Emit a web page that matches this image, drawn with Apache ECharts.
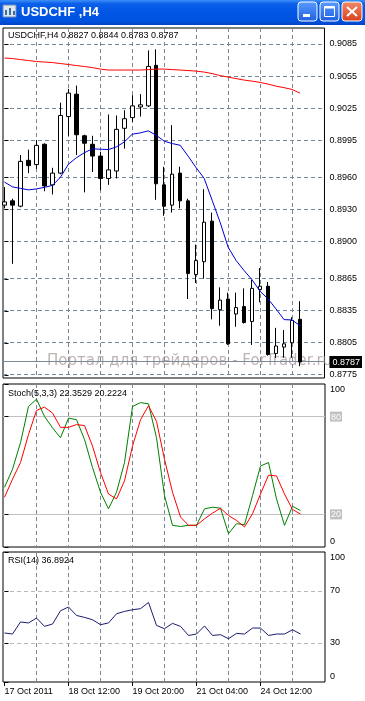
<!DOCTYPE html>
<html><head><meta charset="utf-8">
<script src="https://cdn.jsdelivr.net/npm/echarts@6/dist/echarts.min.js"></script>
<style>html,body{margin:0;padding:0;background:#fff}#c{width:365px;height:701px}</style>
</head><body><div id="c"></div>
<script>
const symbolName = 'USDCHF';
const timeframe = 'H4';
const open  = [0.8934,0.8938,0.8933,0.8976,0.8972,0.8991,0.8953,0.8964,0.9017,0.9038,0.8999,0.8991,0.8980,0.8959,0.8966,0.9006,0.9016,0.9026,0.9027,0.9065,0.8953,0.8934,0.8964,0.8938,0.8869,0.8881,0.8919,0.8836,0.8846,0.8832,0.8839,0.8825,0.8855,0.8858,0.8795,0.8801,0.8805,0.8827];
const close = [0.8937,0.8934,0.8975,0.8971,0.8990,0.8952,0.8964,0.9018,0.9039,0.9000,0.8992,0.8980,0.8959,0.8967,0.9005,0.9015,0.9027,0.9028,0.9064,0.8954,0.8933,0.8963,0.8938,0.8870,0.8882,0.8918,0.8837,0.8845,0.8804,0.8838,0.8824,0.8856,0.8858,0.8794,0.8802,0.8804,0.8826,0.8787];
const high  = [0.8951,0.8940,0.8981,0.8986,0.8995,0.8992,0.8969,0.9030,0.9043,0.9046,0.9000,0.8999,0.8984,0.9019,0.9018,0.9023,0.9037,0.9038,0.9079,0.9080,0.8970,0.9009,0.8970,0.8940,0.8897,0.8949,0.8927,0.8857,0.8852,0.8852,0.8856,0.8864,0.8875,0.8862,0.8819,0.8817,0.8829,0.8844];
const low   = [0.8931,0.8879,0.8932,0.8964,0.8968,0.8947,0.8944,0.8963,0.8999,0.8981,0.8946,0.8965,0.8948,0.8953,0.8959,0.8987,0.9012,0.9017,0.9026,0.8939,0.8924,0.8927,0.8931,0.8846,0.8861,0.8865,0.8827,0.8821,0.8803,0.8820,0.8823,0.8803,0.8843,0.8793,0.8791,0.8791,0.8791,0.8783];
const maSlow = [0.90718,0.90714,0.90704,0.90695,0.90686,0.90681,0.90676,0.90667,0.90658,0.90648,0.90639,0.90629,0.90615,0.90606,0.90606,0.90606,0.90606,0.90606,0.90610,0.90615,0.90615,0.90610,0.90606,0.90601,0.90596,0.90587,0.90573,0.90554,0.90540,0.90526,0.90512,0.90502,0.90490,0.90474,0.90455,0.90441,0.90424,0.90390];
const maFast = [0.89556,0.89511,0.89497,0.89483,0.89492,0.89507,0.89525,0.89601,0.89723,0.89784,0.89831,0.89868,0.89864,0.89861,0.89885,0.89932,0.90005,0.90017,0.90036,0.89995,0.89939,0.89917,0.89901,0.89798,0.89690,0.89591,0.89385,0.89178,0.88946,0.88821,0.88727,0.88640,0.88533,0.88461,0.88367,0.88267,0.88264,0.88210];
const stochMain   = [36.6,47.7,64.0,86.2,90.7,80.1,73.1,67.0,79.1,78.1,66.0,48.8,33.6,23.4,33.6,51.8,86.2,88.6,87.8,67.0,31.5,13.3,12.6,13.3,13.3,23.4,24.4,23.8,8.2,14.3,13.7,31.5,49.7,51.8,29.5,13.3,25.0,22.3529];
const stochSignal = [30.5,41.6,51.8,69.0,83.8,85.8,82.2,73.4,73.4,75.1,74.5,61.9,45.7,32.5,29.5,40.6,61.9,78.1,86.6,77.1,53.8,33.6,18.4,13.3,13.3,17.3,20.8,23.8,19.3,16.3,12.3,20.4,32.5,44.1,43.6,32.5,23.0,20.2224];
const rsi = [37.7,36.9,46.2,45.4,49.2,42.8,44.6,54.8,57.7,51.2,49.7,47.9,44.1,45.4,52.5,54.3,55.6,56.4,61.2,43.5,41.0,45.1,42.8,35.8,36.9,43.1,35.8,36.4,33.3,37.4,36.9,41.5,41.5,35.8,36.9,36.9,40.2,36.8924];
const priceTicks = [0.9085,0.9055,0.9025,0.8995,0.8960,0.8930,0.8900,0.8865,0.8835,0.8805,0.8775];
const stochTicks = [0,20,80,100];
const stochLevels = [20,80];
const rsiTicks = [0,30,70,100];
const rsiLevels = [30,70];
const timeTickIdx = [0,8,16,24,32];
const timeTickLabels = ['17 Oct 2011','18 Oct 12:00','19 Oct 20:00','21 Oct 04:00','24 Oct 12:00'];
const vGridIdx = [4,8,12,16,20,24,28,32,36];
const stochName = 'Stoch(5,3,3)';
const rsiName = 'RSI(14)';

const N = open.length;
const lastClose = close[N-1];
const FONT = 'Liberation Sans';
const FS = 9;
const XMIN = -0.1875, XMAX = 40.0625;
const dashC = '#778899';

function pts(arr){ return arr.map((v,i)=>[i,v]); }
const candleData = open.map((o,i)=>[i,o,close[i],low[i],high[i]]);

const grids = [
  {left:3, top:28, width:322, height:350},
  {left:3, top:384, width:322, height:163},
  {left:3, top:552, width:322, height:130}
].map(g=>Object.assign(g,{show:true, borderColor:'#000', borderWidth:1, backgroundColor:'transparent'}));

function xAx(gi, withLabels){
  return {gridIndex:gi, type:'value', min:XMIN, max:XMAX, splitLine:{show:false}, axisLine:{show:false},
    axisTick: withLabels ? {show:true, customValues:timeTickIdx, length:4, lineStyle:{color:'#000'}} : {show:false},
    axisLabel: withLabels ? {show:true, customValues:timeTickIdx, align:'left', margin:5, color:'#000', fontFamily:FONT, fontSize:FS,
      formatter:v=>timeTickLabels[timeTickIdx.indexOf(Math.round(v))] || ''} : {show:false}};
}
function yAx(gi, min, max, ticks, labelVals, formatter, rich){
  return {gridIndex:gi, type:'value', position:'right', min:min, max:max, z:10, splitLine:{show:false}, axisLine:{show:false},
    axisTick:{show:true, customValues:ticks, length:4, lineStyle:{color:'#000'}},
    axisLabel:{show:true, customValues:labelVals, margin:5, color:'#000', fontFamily:FONT, fontSize:FS, formatter:formatter, rich:rich}};
}
const edgeRich = {
  t:{padding:[12,0,0,0], color:'#000', fontFamily:FONT, fontSize:FS},
  btm:{padding:[0,0,11,0], color:'#000', fontFamily:FONT, fontSize:FS},
  g:{backgroundColor:'#c0c0c0', color:'#fff', padding:[1,1,0,1], fontFamily:FONT, fontSize:FS}
};

// grid-line specs: vertical at bar indices, horizontal at levels; drawn through the axes via api.coord
function gridLineSeries(gi, hSpecs){
  const specs = vGridIdx.map(v=>({dir:'v', v:v, color:dashC, dash:[4,3]})).concat(hSpecs);
  return {type:'custom', xAxisIndex:gi, yAxisIndex:gi, silent:true, z:1, clip:false,
    data: specs.map((s,i)=>[i]),
    encode:{x:-1, y:-1},
    renderItem:(params, api)=>{
      const s = specs[params.dataIndex];
      const cs = params.coordSys;
      let shape;
      if (s.dir==='v'){
        const x = Math.round(api.coord([s.v, 0])[0] - 0.5) + 0.5;
        shape = {x1:x, y1:cs.y, x2:x, y2:cs.y+cs.height};
      } else {
        const y = Math.round(api.coord([0, s.v])[1] - 0.5) + 0.5;
        shape = {x1:cs.x, y1:y, x2:cs.x+cs.width, y2:y};
      }
      return {type:'line', shape:shape, style:{stroke:s.color, lineWidth:1, lineDash:s.dash||null}};
    }};
}

const option = {
  animation:false,
  backgroundColor:'#fff',
  grid: grids,
  xAxis:[xAx(0,false), xAx(1,false), xAx(2,true)],
  yAxis:[
    yAx(0, 0.8772, 0.9100, priceTicks, priceTicks.concat([lastClose]),
      v => Math.abs(v-lastClose)<1e-7 ? '{b|'+v.toFixed(4)+'}' : v.toFixed(4),
      {b:{backgroundColor:'#000', color:'#fff', padding:[2,2,1,3], fontFamily:FONT, fontSize:FS}}),
    yAx(1, 0, 100, stochTicks, stochTicks,
      v => v===100 ? '{t|100}' : v===0 ? '{btm|0}' : '{g|'+v+'}', edgeRich),
    yAx(2, 0, 100, rsiTicks, rsiTicks,
      v => v===100 ? '{t|100}' : v===0 ? '{btm|0}' : String(v), edgeRich)
  ],
  title:[
    {text: symbolName+','+timeframe+' '+[open[N-1],high[N-1],low[N-1],close[N-1]].map(v=>v.toFixed(4)).join(' '), left:8, top:31, padding:0,
      textStyle:{fontFamily:FONT, fontSize:FS, fontWeight:'normal', color:'#000'}},
    {text: stochName+' '+stochMain[N-1].toFixed(4)+' '+stochSignal[N-1].toFixed(4), left:8, top:389, padding:0,
      textStyle:{fontFamily:FONT, fontSize:FS, fontWeight:'normal', color:'#000'}},
    {text: rsiName+' '+rsi[N-1].toFixed(4), left:8, top:556, padding:0,
      textStyle:{fontFamily:FONT, fontSize:FS, fontWeight:'normal', color:'#000'}}
  ],
  series:[
    gridLineSeries(0, priceTicks.map(v=>({dir:'h', v:v, color:dashC, dash:[4,3]})).concat([{dir:'h', v:lastClose, color:'#7d8a98', dash:null}])),
    gridLineSeries(1, stochLevels.map(v=>({dir:'h', v:v, color:'#c0c0c0', dash:null}))),
    gridLineSeries(2, rsiLevels.map(v=>({dir:'h', v:v, color:'#b8b8b8', dash:[4,3]}))),
    {type:'candlestick', xAxisIndex:0, yAxisIndex:0, data:candleData, barWidth:4, z:3,
      itemStyle:{color:'#fff', color0:'#000', borderColor:'#000', borderColor0:'#000', borderWidth:1}},
    {type:'line', xAxisIndex:0, yAxisIndex:0, data:pts(maSlow), showSymbol:false, z:4, lineStyle:{color:'#ff0000', width:1}},
    {type:'line', xAxisIndex:0, yAxisIndex:0, data:pts(maFast), showSymbol:false, z:4, lineStyle:{color:'#0000d8', width:1}},
    {type:'line', xAxisIndex:1, yAxisIndex:1, data:pts(stochMain), showSymbol:false, z:4, lineStyle:{color:'#008000', width:1}},
    {type:'line', xAxisIndex:1, yAxisIndex:1, data:pts(stochSignal), showSymbol:false, z:4, lineStyle:{color:'#ff0000', width:1}},
    {type:'line', xAxisIndex:2, yAxisIndex:2, data:pts(rsi), showSymbol:false, z:4, lineStyle:{color:'#1c1c70', width:1}}
  ],
  graphic:[
    {type:'rect', z:0, shape:{x:0,y:0,width:365,height:25}, style:{fill:new echarts.graphic.LinearGradient(0,0,0,1,[
      {offset:0,color:'#3d8ff7'},{offset:0.15,color:'#0b5fe9'},{offset:0.5,color:'#0055e5'},{offset:0.85,color:'#0052df'},{offset:1,color:'#0343c4'}])}},
    {type:'rect', z:1, shape:{x:3,y:5,width:13,height:12}, style:{fill:'#dfe6ee', stroke:'#6f8fb8', lineWidth:1}},
    {type:'rect', z:1, shape:{x:5,y:10,width:2,height:5}, style:{fill:'#3a6ea5'}},
    {type:'rect', z:1, shape:{x:9,y:8,width:2,height:7}, style:{fill:'#3a6ea5'}},
    {type:'rect', z:1, shape:{x:13,y:11,width:2,height:4}, style:{fill:'#3a6ea5'}},
    {type:'text', z:1, x:21, y:12, style:{text:symbolName+' ,'+timeframe, fill:'#fff', font:'bold 13px "Liberation Sans"', align:'left', verticalAlign:'middle', textAlign:'left', textVerticalAlign:'middle'}},
    {type:'rect', z:1, shape:{x:298,y:2,width:19,height:19,r:3}, style:{fill:new echarts.graphic.LinearGradient(0,0,0,1,[{offset:0,color:'#5a9cff'},{offset:1,color:'#1f5fe0'}]), stroke:'#fff', lineWidth:1}},
    {type:'rect', z:2, shape:{x:303,y:14,width:7,height:3}, style:{fill:'#fff'}},
    {type:'rect', z:1, shape:{x:320,y:2,width:19,height:19,r:3}, style:{fill:new echarts.graphic.LinearGradient(0,0,0,1,[{offset:0,color:'#5a9cff'},{offset:1,color:'#1f5fe0'}]), stroke:'#fff', lineWidth:1}},
    {type:'rect', z:2, shape:{x:324.5,y:6.5,width:10,height:10}, style:{fill:'none', stroke:'#fff', lineWidth:1}},
    {type:'rect', z:2, shape:{x:324.5,y:6.5,width:10,height:2}, style:{fill:'#fff'}},
    {type:'rect', z:1, shape:{x:342,y:2,width:20,height:19,r:3}, style:{fill:new echarts.graphic.LinearGradient(0,0,0,1,[{offset:0,color:'#f08a6a'},{offset:1,color:'#d8401c'}]), stroke:'#fff', lineWidth:1}},
    {type:'line', z:2, shape:{x1:347,y1:7,x2:357,y2:16}, style:{stroke:'#fff', lineWidth:2}},
    {type:'line', z:2, shape:{x1:357,y1:7,x2:347,y2:16}, style:{stroke:'#fff', lineWidth:2}},
    {type:'text', z:1, x:47, y:361, style:{text:'Портал для трейдеров - ForTrader.ru', fill:'rgba(150,128,128,0.6)', font:'15px "DejaVu Sans"', align:'left', verticalAlign:'middle', textAlign:'left', textVerticalAlign:'middle'}}
  ]
};
const chart = echarts.init(document.getElementById('c'), null, {renderer:'canvas'});
chart.setOption(option);
</script></body></html>
